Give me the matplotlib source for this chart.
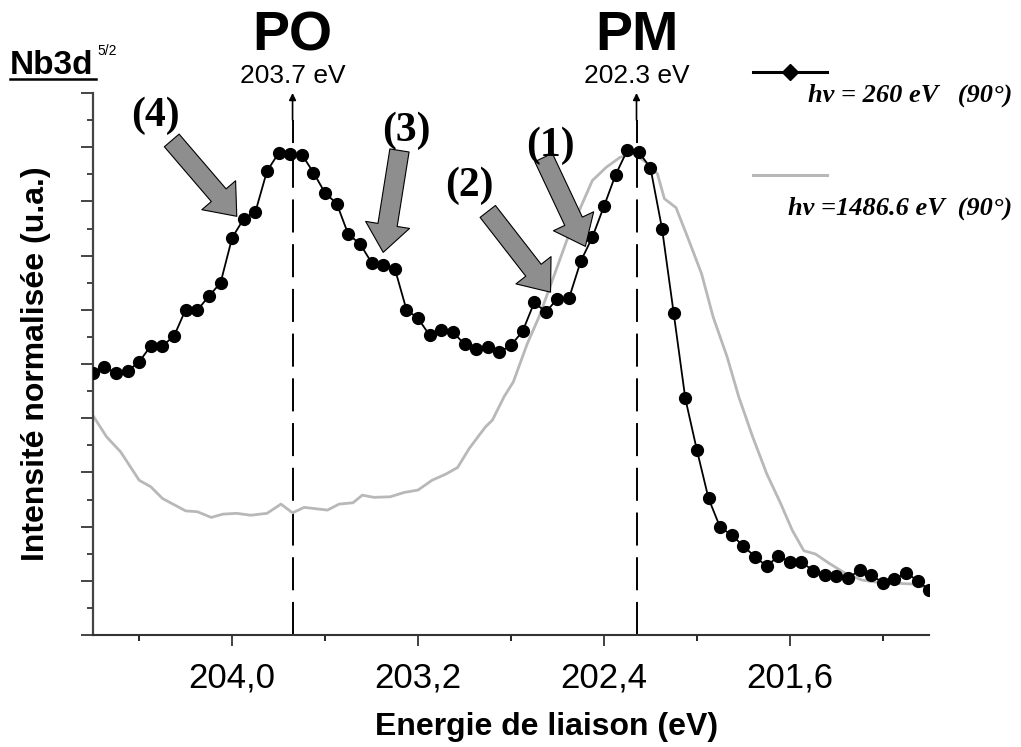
import matplotlib
matplotlib.use("Agg")
import matplotlib.pyplot as plt
from matplotlib.patches import FancyArrowPatch
from matplotlib.lines import Line2D

# hv = 260 eV (90°), points read every 0.05 eV
energies_260 = [204.60, 204.55, 204.50, 204.45, 204.40, 204.35, 204.30, 204.25, 204.20, 204.15,
                204.10, 204.05, 204.00, 203.95, 203.90, 203.85, 203.80, 203.75, 203.70, 203.65,
                203.60, 203.55, 203.50, 203.45, 203.40, 203.35, 203.30, 203.25, 203.20, 203.15,
                203.10, 203.05, 203.00, 202.95, 202.90, 202.85, 202.80, 202.75, 202.70, 202.65,
                202.60, 202.55, 202.50, 202.45, 202.40, 202.35, 202.30, 202.25, 202.20, 202.15,
                202.10, 202.05, 202.00, 201.95, 201.90, 201.85, 201.80, 201.75, 201.70, 201.65,
                201.60, 201.55, 201.50, 201.45, 201.40, 201.35, 201.30, 201.25, 201.20, 201.15,
                201.10, 201.05, 201.00]
intensity_260 = [9.67, 9.89, 9.67, 9.74, 10.08, 10.67, 10.67, 11.03, 12.01, 11.98,
                 12.51, 12.99, 14.66, 15.36, 15.61, 17.12, 17.78, 17.76, 17.73, 17.06,
                 16.31, 15.92, 14.78, 14.44, 13.74, 13.64, 13.52, 12.01, 11.68, 11.06,
                 11.27, 11.18, 10.73, 10.54, 10.63, 10.44, 10.69, 11.21, 12.27, 11.92,
                 12.41, 12.44, 13.79, 14.68, 15.82, 16.98, 17.88, 17.82, 17.24, 14.99,
                 11.88, 8.73, 6.82, 5.04, 3.97, 3.69, 3.28, 2.89, 2.54, 2.91,
                 2.70, 2.70, 2.37, 2.21, 2.17, 2.09, 2.40, 2.21, 1.93, 2.05,
                 2.30, 2.00, 1.66]

# hv = 1486.6 eV (90°)
energies_1486 = [204.60, 204.54, 204.48, 204.40, 204.35, 204.30, 204.20, 204.15, 204.09, 204.04,
                 203.98, 203.92, 203.85, 203.79, 203.74, 203.69, 203.59, 203.54, 203.48, 203.44,
                 203.39, 203.32, 203.26, 203.20, 203.14, 203.08, 203.03, 202.98, 202.91, 202.88,
                 202.83, 202.79, 202.73, 202.68, 202.63, 202.56, 202.50, 202.45, 202.39, 202.33,
                 202.27, 202.22, 202.17, 202.14, 202.09, 202.04, 201.98, 201.93, 201.87, 201.82,
                 201.76, 201.70, 201.64, 201.59, 201.54, 201.49, 201.43, 201.36, 201.29, 201.21,
                 201.14, 201.07, 201.00]
intensity_1486 = [8.11, 7.31, 6.76, 5.71, 5.47, 5.04, 4.58, 4.55, 4.34, 4.46,
                  4.49, 4.42, 4.49, 4.83, 4.51, 4.71, 4.61, 4.83, 4.88, 5.16,
                  5.08, 5.10, 5.26, 5.35, 5.71, 5.94, 6.18, 6.88, 7.68, 7.93,
                  8.79, 9.34, 10.75, 11.73, 12.90, 14.56, 15.79, 16.77, 17.26, 17.63,
                  17.76, 17.45, 17.02, 16.10, 15.77, 14.68, 13.33, 11.73, 10.26, 8.79,
                  7.31, 5.96, 4.86, 3.87, 3.11, 2.99, 2.64, 2.27, 2.03, 1.93,
                  1.91, 1.88, 1.72]

x_ticks = [204.0, 203.2, 202.4, 201.6]
x_tick_labels = ["204,0", "203,2", "202,4", "201,6"]
x_minor = [204.4, 203.6, 202.8, 202.0, 201.2]

peaks = [("PO", 203.74, "203.7 eV"), ("PM", 202.26, "202.3 eV")]

# numbered arrows: label, label position, arrow start, arrow tip
marks = [("(4)", (204.33, 19.17), (204.26, 18.25), (203.98, 15.45)),
         ("(3)", (203.25, 18.62), (203.28, 17.88), (203.35, 14.12)),
         ("(2)", (202.98, 16.59), (202.90, 15.63), (202.63, 12.65)),
         ("(1)", (202.63, 18.06), (202.66, 17.62), (202.48, 14.34))]

sans = "Liberation Sans"
serif = "Liberation Serif"

fig = plt.figure(figsize=(10.21, 7.47), dpi=100)
ax = fig.add_axes([0.0908, 0.1499, 0.8194, 0.7256])

ax.plot(energies_1486, intensity_1486, color="#b8b8b8", lw=2.0, zorder=2)
ax.plot(energies_260, intensity_260, color="black", lw=1.3, marker="o", ms=8.5, zorder=3)

ax.set_xlim(204.6, 201.0)
ax.set_ylim(0, 20)

for name, e, lab in peaks:
    ax.plot([e, e], [0, 19.0], color="black", lw=1.4, dashes=[17, 6], zorder=1)
    ax.annotate("", xy=(e, 20.0), xytext=(e, 19.0), annotation_clip=False,
                arrowprops=dict(arrowstyle="-|>", color="black", lw=1.2, mutation_scale=10,
                                shrinkA=0, shrinkB=0))
    ax.text(e, 22.1, name, ha="center", va="center", fontsize=40, fontweight="bold",
            family=sans, clip_on=False)
    ax.text(e, 20.62, lab, ha="center", va="center", fontsize=19, family=sans, clip_on=False)

for lab, pos, start, tip in marks:
    ax.text(pos[0], pos[1], lab, ha="center", va="center", fontsize=30, fontweight="bold",
            family=serif, zorder=6)
    arr = FancyArrowPatch(start, tip, arrowstyle="simple,head_width=32,head_length=20,tail_width=14",
                          mutation_scale=1, shrinkA=0, shrinkB=0, facecolor="#8e8e8e",
                          edgecolor="black", lw=0.8, zorder=5)
    ax.add_patch(arr)

# axes styling
for side in ["top", "right"]:
    ax.spines[side].set_visible(False)
ax.spines["left"].set_color("#444444")
ax.spines["left"].set_linewidth(1.6)
ax.spines["bottom"].set_color("#333333")
ax.spines["bottom"].set_linewidth(1.5)

ax.set_xticks(x_ticks)
ax.set_xticklabels(x_tick_labels, fontsize=25, family=sans)
ax.set_xticks(x_minor, minor=True)
ax.set_yticks(range(0, 21, 2))
ax.set_yticks(range(1, 20, 2), minor=True)
ax.set_yticklabels([])
ax.tick_params(axis="x", which="major", direction="out", length=8, width=1.2, pad=11, colors="#222222")
ax.tick_params(axis="x", which="minor", direction="out", length=4.5, width=1.2)
ax.tick_params(axis="y", which="major", direction="out", length=8.5, width=1.4, color="#444444")
ax.tick_params(axis="y", which="minor", direction="out", length=4.5, width=1.4, color="#444444")
for t in ax.get_xticklabels():
    t.set_color("black")

ax.set_xlabel("Energie de liaison (eV)", fontsize=23, fontweight="bold", family=sans)
ax.xaxis.set_label_coords(0.542, -0.142)
ax.set_ylabel("Intensité normalisée (u.a.)", fontsize=23, fontweight="bold", family=sans)
ax.yaxis.set_label_coords(-0.05, 0.5)

# Nb3d 5/2 label, underlined
W, H = 1021.0, 747.0
fig.text(10 / W, 1 - 74 / H, "Nb3d", fontsize=24, fontweight="bold", family=sans, va="baseline")
fig.text(97 / W, 1 - 55 / H, "5/2", fontsize=10, family=sans, va="baseline")
fig.add_artist(Line2D([10 / W, 96 / W], [1 - 79 / H, 1 - 79 / H], color="black", lw=1.8))

# legend drawn by hand beside the plot
fig.add_artist(Line2D([753 / W, 827 / W], [1 - 72 / H, 1 - 72 / H], color="black", lw=2.2))
fig.add_artist(Line2D([790 / W], [1 - 72 / H], color="black", marker="D", ms=8, lw=0))
fig.text(1012 / W, 1 - 95 / H, "hν = 260 eV   (90°)", ha="right", va="center", fontsize=19,
         fontweight="bold", fontstyle="italic", family=serif)
fig.add_artist(Line2D([753 / W, 827 / W], [1 - 175 / H, 1 - 175 / H], color="#b8b8b8", lw=2.2))
fig.text(1012 / W, 1 - 208 / H, "hν =1486.6 eV  (90°)", ha="right", va="center", fontsize=19,
         fontweight="bold", fontstyle="italic", family=serif)

fig.savefig("out.png", dpi=100)
